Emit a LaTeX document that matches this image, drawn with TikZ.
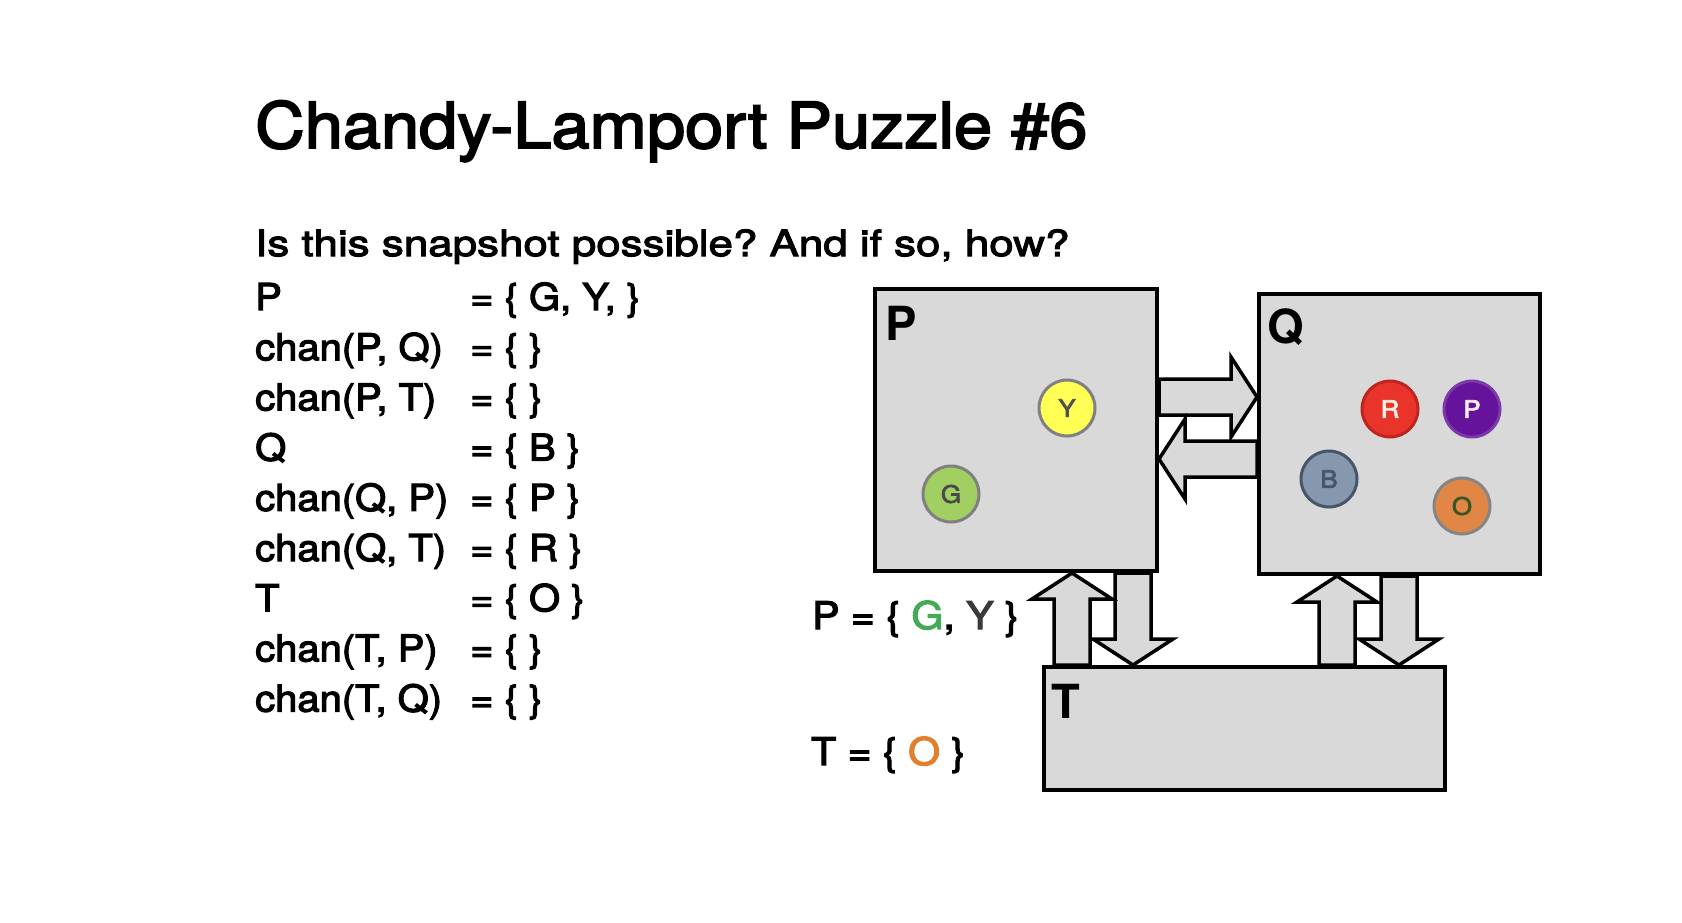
\documentclass[tikz,border=0pt]{standalone}
\usepackage{fontspec}
\setmainfont{TeX Gyre Heros}
\newfontfamily\medfont{TeX Gyre Heros}[FakeBold=3,FakeStretch=1.08]
\newfontfamily\widefont{TeX Gyre Heros}[FakeBold=3,FakeStretch=1.22]
\usetikzlibrary{calc}
\frenchspacing

\definecolor{boxgray}{HTML}{D9D9D9}
\definecolor{setgreen}{HTML}{44AA58}
\definecolor{setdark}{HTML}{3A3A3A}
\definecolor{setorange}{HTML}{E07F2C}

% block arrow from tail to tip
\newcommand\blockarrow[2]{%
  \coordinate (ba) at ($(#2)!26pt!(#1)$);
  \draw[blockarrow] ($(#1)!18pt!90:(#2)$) -- ($(ba)!18pt!90:(#2)$) -- ($(ba)!40pt!90:(#2)$)
    -- (#2) -- ($(ba)!40pt!-90:(#2)$) -- ($(ba)!18pt!-90:(#2)$) -- ($(#1)!18pt!-90:(#2)$) -- cycle;}

\begin{document}
\begin{tikzpicture}
  [x=1pt,y=-1pt,
   box/.style={draw,line width=4pt,fill=boxgray,inner sep=0pt},
   boxlabel/.style={anchor=base west,inner sep=0pt,font=\fontsize{47}{47}\selectfont\bfseries},
   token/.style={circle,line width=3pt,minimum size=56pt,inner sep=0pt,font=\medfont\fontsize{24}{24}\selectfont},
   txt/.style={anchor=base west,inner sep=0pt,font=\medfont\fontsize{37}{45}\selectfont},
   blockarrow/.style={draw,line width=3.5pt,fill=boxgray,line join=miter}]
  \useasboundingbox (0,0) rectangle (1682,922);

  \node[txt,font=\medfont\fontsize{63.5}{64}\selectfont] (title) at (255,148) {Chandy-Lamport Puzzle \#6};
  \node[txt,font=\widefont\fontsize{36}{44}\selectfont] (question) at (255,256) {Is this snapshot possible? And if so, how?};

  \foreach \lhs/\rhs [count=\i] in {P/{= \{ G, Y, \}}, {chan(P, Q)}/{= \{ \}}, {chan(P, T)}/{= \{ \}},
      Q/{= \{ B \}}, {chan(Q, P)}/{= \{ P \}}, {chan(Q, T)}/{= \{ R \}}, T/{= \{ O \}},
      {chan(T, P)}/{= \{ \}}, {chan(T, Q)}/{= \{ \}}}
  {
    \node[txt] (lhs\i) at (255,{310+50.2*(\i-1)}) {\lhs};
    \node[txt] (rhs\i) at (470,{310+50.2*(\i-1)}) {\rhs};
  }

  \node[txt,font=\medfont\fontsize{38}{45}\selectfont] (Pset) at (812,629) {P = \{ \textcolor{setgreen}{G}, \textcolor{setdark}{Y} \}};
  \node[txt,font=\medfont\fontsize{38}{45}\selectfont] (Tset) at (811,765) {T = \{ \textcolor{setorange}{O} \}};

  % processes
  \node[box,minimum width=282pt,minimum height=282pt] (P) at (1016,430) {};
  \node[box,minimum width=281pt,minimum height=280pt] (Q) at (1399.5,434) {};
  \node[box,minimum width=401pt,minimum height=123pt] (T) at (1244.5,728.5) {};
  \node[boxlabel] (Plabel) at ($(P.north west)+(12,53)$) {P};
  \node[boxlabel] (Qlabel) at ($(Q.north west)+(10,51)$) {Q};
  \node[boxlabel] (Tlabel) at ($(T.north west)+(9,53)$) {T};

  % tokens
  \node[token,fill={rgb,255:red,255;green,255;blue,85},draw={rgb,255:red,128;green,128;blue,128},text={rgb,255:red,80;green,80;blue,80}] (Y) at (1067,408) {Y};
  \node[token,fill={rgb,255:red,162;green,207;blue,98},draw={rgb,255:red,128;green,128;blue,128},text={rgb,255:red,74;green,74;blue,74}] (G) at (951,494) {G};
  \node[token,fill={rgb,255:red,232;green,52;blue,42},draw={rgb,255:red,192;green,36;blue,30},text={rgb,255:red,255;green,240;blue,232}] (R) at (1390,409) {R};
  \node[token,fill={rgb,255:red,101;green,19;blue,154},draw={rgb,255:red,122;green,58;blue,168},text={rgb,255:red,255;green,240;blue,240}] (Ptok) at (1472,409) {P};
  \node[token,fill={rgb,255:red,135;green,151;blue,174},draw={rgb,255:red,69;green,85;blue,107},text={rgb,255:red,69;green,85;blue,107}] (B) at (1329,479) {B};
  \node[token,fill={rgb,255:red,224;green,134;blue,70},draw={rgb,255:red,133;green,133;blue,133},text={rgb,255:red,59;green,85;blue,36}] (O) at (1462,506) {O};

  % channels
  \coordinate (PQ-t) at (P.east |- 0,397);
  \coordinate (PQ-h) at (Q.west |- 0,397);
  \coordinate (QP-t) at (Q.west |- 0,459);
  \coordinate (QP-h) at (P.east |- 0,459);
  \coordinate (PT-t) at (P.south -| 1133,0);
  \coordinate (PT-h) at (T.north -| 1133,0);
  \coordinate (TP-t) at (T.north -| 1072,0);
  \coordinate (TP-h) at (P.south -| 1072,0);
  \coordinate (QT-t) at (Q.south -| 1399,0);
  \coordinate (QT-h) at (T.north -| 1399,0);
  \coordinate (TQ-t) at (T.north -| 1337,0);
  \coordinate (TQ-h) at (Q.south -| 1337,0);

  \foreach \c in {PQ,QP,PT,TP,QT,TQ}
    \blockarrow{\c-t}{\c-h};

\end{tikzpicture}
\end{document}
